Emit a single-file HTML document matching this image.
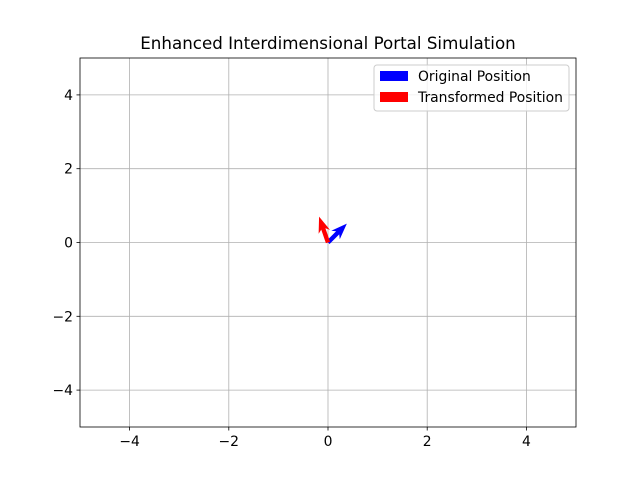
<!DOCTYPE html>
<html><head><meta charset="utf-8"><style>body{margin:0;background:#fff}svg{display:block;font-family:"DejaVu Sans","Liberation Sans",sans-serif}</style></head>
<body>
<svg id="c" width="640" height="480"></svg>
<script>
const ticks=[-4,-2,0,2,4];
const vectorNames=["Original Position","Transformed Position"];
const vecU=[0.38,-0.18];
const vecV=[0.51,0.70];
const colors=["#0000ff","#ff0000"];
const L=80,R=576,T=58,B=427;
const sx=v=>L+(v+5)/10*(R-L), sy=v=>B-(v+5)/10*(B-T);
const svg=document.getElementById('c');const NS="http://www.w3.org/2000/svg";
function mk(t,a,p){const e=document.createElementNS(NS,t);for(const k in a)e.setAttribute(k,a[k]);(p||svg).appendChild(e);return e;}
mk('text',{x:328,y:49,'text-anchor':'middle','font-size':16.7,fill:'#000'}).textContent="Enhanced Interdimensional Portal Simulation";
ticks.forEach(t=>{
 const gx=mk('line',{x1:sx(t),x2:sx(t),y1:T,y2:B,stroke:'#b0b0b0','stroke-width':0.8});
 
 const gy=mk('line',{x1:L,x2:R,y1:sy(t),y2:sy(t),stroke:'#b0b0b0','stroke-width':0.8});
 
 mk('line',{x1:sx(t),x2:sx(t),y1:B,y2:B+3.5,stroke:'#000','stroke-width':0.8});
 mk('line',{x1:L-3.5,x2:L,y1:sy(t),y2:sy(t),stroke:'#000','stroke-width':0.8});
 const lx=mk('text',{x:sx(t),y:B+19,'text-anchor':'middle','font-size':13.9});lx.textContent=(t<0?'\u2212'+(-t):t);
 
 const ly=mk('text',{x:L-7,y:sy(t)+5,'text-anchor':'end','font-size':13.9});ly.textContent=(t<0?'\u2212'+(-t):t);
 
});
vecU.forEach((u,i)=>{
 const x0=sx(0),y0=sy(0),x1=sx(u),y1=sy(vecV[i]);
 const dx=x1-x0,dy=y1-y0,len=Math.hypot(dx,dy),ux=dx/len,uy=dy/len,nx=-uy,ny=ux;
 const hl=Math.min(13,len*0.5),sw=2.2,hw=6;
 const bx=x1-ux*hl,by=y1-uy*hl;
 const p=[[x0+nx*sw,y0+ny*sw],[bx+nx*sw,by+ny*sw],[bx+nx*hw-ux*3,by+ny*hw-uy*3],[x1,y1],[bx-nx*hw-ux*3,by-ny*hw-uy*3],[bx-nx*sw,by-ny*sw],[x0-nx*sw,y0-ny*sw]];
 const a=mk('polygon',{points:p.map(q=>q.join(',')).join(' '),fill:colors[i]});
 
});
mk('rect',{x:L,y:T,width:R-L,height:B-T,fill:'none',stroke:'#000','stroke-width':0.8});
const lg=mk('g',{});
mk('rect',{x:374,y:65,width:195,height:46,rx:3,fill:'#fff','fill-opacity':0.8,stroke:'#ccc'},lg);
vectorNames.forEach((n,i)=>{
 mk('rect',{x:380,y:71+i*21,width:28,height:10,fill:colors[i]},lg);
 const t=mk('text',{x:418,y:81+i*21,'font-size':13.9},lg);t.textContent=n;
 
});
</script>
</body></html>
